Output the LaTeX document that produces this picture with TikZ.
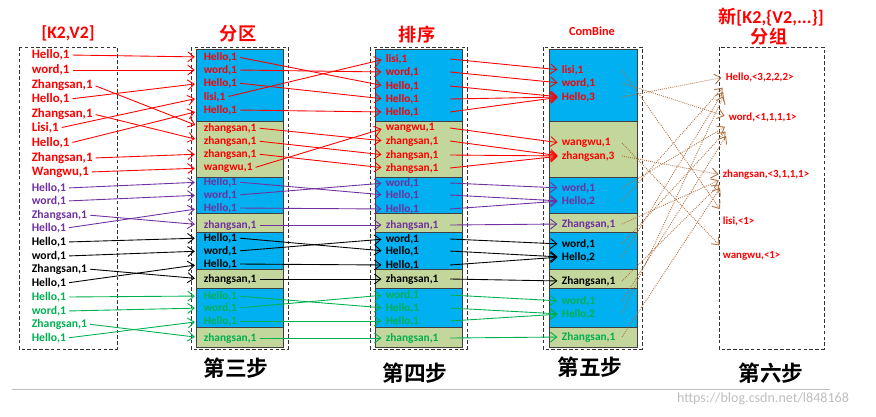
\documentclass[tikz,border=0pt]{standalone}
\usepackage{fontspec}
\setmainfont{Carlito}
\newfontfamily\cjk{Noto Sans CJK SC}[BoldFont={Noto Sans CJK SC Bold}]
\usetikzlibrary{arrows.meta,calc}

\definecolor{kred}{RGB}{255,0,0}
\definecolor{kpurple}{RGB}{112,48,160}
\definecolor{kgreen}{RGB}{0,176,80}
\definecolor{kbrown}{RGB}{176,112,64}
\definecolor{blkblue}{RGB}{0,176,240}
\definecolor{blkolive}{RGB}{195,214,155}

\tikzset{
  item/.style={anchor=west, inner sep=0.5pt, font=\bfseries\fontsize{9.7}{10}\selectfont},
  kvarrow/.style={line width=0.75pt, -{Straight Barb[length=5.5pt,width=8.5pt]}},
  grouparrow/.style={kbrown, line width=0.75pt, densely dotted, -{Straight Barb[length=5.5pt,width=8.5pt]}},
  dashbox/.style={densely dashed, line width=0.7pt, draw=black!80},
  coltitle/.style={kred, font=\cjk\bfseries\fontsize{15.5}{16}\selectfont},
  steplabel/.style={font=\cjk\bfseries\fontsize{18.5}{20}\selectfont},
}

\begin{document}
\begin{tikzpicture}[x=0.03cm, y=-0.03cm]
\useasboundingbox (0,0) rectangle (876,416);

% dashed frames of the five columns
\draw[dashbox] (19,47) rectangle (117,349);
\draw[dashbox] (191,47) rectangle (288,349);
\draw[dashbox] (370,47) rectangle (467,349);
\draw[dashbox] (543,47) rectangle (642,349);
\draw[dashbox] (719,47) rectangle (824,349);

% coloured partitions
\foreach \xl/\xr in {196/283, 375/462, 549/637}
  \foreach \ya/\yb/\f in {49/121/blkblue, 121/177/blkolive, 177/213/blkblue, 213/232/blkolive,
                          232/269/blkblue, 269/288/blkolive, 288/327/blkblue, 327/347/blkolive}
    \draw[fill=\f, draw=black!75, line width=0.5pt] (\xl,\ya) rectangle (\xr,\yb);

% titles
\node[kred, font=\bfseries\fontsize{15}{16}\selectfont] (tK) at (68,33) {[K2,V2]};
\node[coltitle] (tP) at (238,34) {分区};
\node[coltitle] (tS) at (417,35) {排序};
\node[kred, font=\bfseries\fontsize{10.5}{11}\selectfont] (tC) at (592,31) {ComBine};
\node[kred, font=\bfseries\fontsize{15.5}{16}\selectfont] (tG) at (771,17) {{\cjk\bfseries 新}[K2,\{V2,...\}]};
\node[coltitle] (tG2) at (769,37) {分组};

% [K2,V2]
\foreach \n/\y/\t/\c/\s in {1/55/{Hello,1}/kred/11, 2/70/{word,1}/kred/11, 3/85/{Zhangsan,1}/kred/11,
    4/99/{Hello,1}/kred/11, 5/114/{Zhangsan,1}/kred/11, 6/128/{Lisi,1}/kred/11, 7/143/{Hello,1}/kred/11,
    8/158/{Zhangsan,1}/kred/11, 9/172/{Wangwu,1}/kred/11,
    10/188/{Hello,1}/kpurple/10, 11/201/{word,1}/kpurple/10, 12/215/{Zhangsan,1}/kpurple/10, 13/228/{Hello,1}/kpurple/10,
    14/242/{Hello,1}/black/10, 15/256/{word,1}/black/10, 16/269/{Zhangsan,1}/black/10, 17/283/{Hello,1}/black/10,
    18/297/{Hello,1}/kgreen/10, 19/311/{word,1}/kgreen/10, 20/324/{Zhangsan,1}/kgreen/10, 21/338/{Hello,1}/kgreen/10}
  \node[item, \c, font=\bfseries\fontsize{\s}{\s}\selectfont] (k\n) at (31,\y) {\t};

% partition
\foreach \n/\y/\t/\c in {1/57/{Hello,1}/kred, 2/70/{word,1}/kred, 3/83/{Hello,1}/kred, 4/97/{lisi,1}/kred,
    5/110/{Hello,1}/kred, 6/128/{zhangsan,1}/kred, 7/141/{zhangsan,1}/kred, 8/154/{zhangsan,1}/kred,
    9/168/{wangwu,1}/kred,
    10/182/{Hello,1}/kpurple, 11/195/{word,1}/kpurple, 12/208/{Hello,1}/kpurple, 13/225/{zhangsan,1}/kpurple,
    14/238/{Hello,1}/black, 15/251/{word,1}/black, 16/264/{Hello,1}/black, 17/279/{zhangsan,1}/black,
    18/296/{Hello,1}/kgreen, 19/308/{word,1}/kgreen, 20/321/{Hello,1}/kgreen, 21/338/{zhangsan,1}/kgreen}
  \node[item, \c] (p\n) at (203,\y) {\t};

% sort
\foreach \n/\y/\t/\c in {1/59/{lisi,1}/kred, 2/72/{word,1}/kred, 3/86/{Hello,1}/kred, 4/99/{Hello,1}/kred,
    5/112/{Hello,1}/kred, 6/128/{wangwu,1}/kred, 7/141/{zhangsan,1}/kred, 8/155/{zhangsan,1}/kred,
    9/168/{zhangsan,1}/kred,
    10/183/{word,1}/kpurple, 11/195/{Hello,1}/kpurple, 12/209/{Hello,1}/kpurple, 13/225/{zhangsan,1}/kpurple,
    14/239/{word,1}/black, 15/251/{Hello,1}/black, 16/265/{Hello,1}/black, 17/279/{zhangsan,1}/black,
    18/295/{word,1}/kgreen, 19/308/{Hello,1}/kgreen, 20/321/{Hello,1}/kgreen, 21/338/{zhangsan,1}/kgreen}
  \node[item, \c] (s\n) at (385,\y) {\t};

% combine
\foreach \n/\y/\t/\c in {1/70/{lisi,1}/kred, 2/83/{word,1}/kred, 3/97/{Hello,3}/kred,
    4/143/{wangwu,1}/kred, 5/156/{zhangsan,3}/kred,
    6/188/{word,1}/kpurple, 7/201/{Hello,2}/kpurple, 8/224/{Zhangsan,1}/kpurple,
    9/244/{word,1}/black, 10/257/{Hello,2}/black, 11/281/{Zhangsan,1}/black,
    12/301/{word,1}/kgreen, 13/314/{Hello,2}/kgreen, 14/337/{Zhangsan,1}/kgreen}
  \node[item, \c] (c\n) at (561,\y) {\t};

% grouped result
\foreach \n/\x/\y/\t in {1/725/77/{Hello,<3,2,2,2>}, 2/728/117/{word,<1,1,1,1>},
    3/722/175/{zhangsan,<3,1,1,1>}, 4/722/221/{lisi,<1>}, 5/722/256/{wangwu,<1>}}
  \node[item, kred, font=\bfseries\fontsize{9.3}{10}\selectfont] (g\n) at (\x,\y) {\t};

% step 3: into partitions
\foreach \a/\b/\c in {1/1/kred, 2/2/kred, 3/6/kred, 4/3/kred, 5/7/kred, 6/4/kred, 7/5/kred, 8/8/kred, 9/9/kred,
    10/10/kpurple, 11/11/kpurple, 12/13/kpurple, 13/12/kpurple,
    14/14/black, 15/15/black, 16/17/black, 17/16/black,
    18/18/kgreen, 19/19/kgreen, 20/21/kgreen, 21/20/kgreen}
  \draw[kvarrow, \c, shorten <=2pt, shorten >=7pt] (k\a.east) -- (p\b.west);

% step 4: sorting
\foreach \a/\b/\c in {1/3/kred, 2/2/kred, 3/4/kred, 4/1/kred, 5/5/kred, 6/7/kred, 7/8/kred, 8/9/kred, 9/6/kred,
    10/11/kpurple, 11/10/kpurple, 12/12/kpurple, 13/13/kpurple,
    14/15/black, 15/14/black, 16/16/black, 17/17/black,
    18/19/kgreen, 19/18/kgreen, 20/20/kgreen, 21/21/kgreen}
  \draw[kvarrow, \c, shorten <=2pt, shorten >=3pt] (p\a.east) -- (s\b.west);

% step 5: combine
\coordinate (c3r) at (450,0);
\foreach \a/\b/\c in {1/1/kred, 2/2/kred, 3/3/kred, 4/3/kred, 5/3/kred, 6/4/kred, 7/5/kred, 8/5/kred, 9/5/kred,
    10/6/kpurple, 11/7/kpurple, 12/7/kpurple, 13/8/kpurple,
    14/9/black, 15/10/black, 16/10/black, 17/11/black,
    18/12/kgreen, 19/13/kgreen, 20/13/kgreen, 21/14/kgreen}
  \draw[kvarrow, \c, shorten >=3pt] (s\a -| c3r) -- (c\b.west);

% step 6: grouping
\coordinate (c4r) at (622,0);
\foreach \a/\b/\d in {3/1/0, 7/1/8, 10/1/12, 13/1/16,
    2/2/0, 6/2/8, 9/2/12, 12/2/16,
    5/3/0, 8/3/4, 11/3/7, 14/3/10,
    1/4/-9, 4/5/-8}
  \draw[grouparrow, shorten >=3pt] (c\a -| c4r) -- ($(g\b.west)+(0,\d)$);

% step labels
\node[steplabel] (st3) at (236,368) {第三步};
\node[steplabel] (st4) at (415,373) {第四步};
\node[steplabel] (st5) at (590,367) {第五步};
\node[steplabel] (st6) at (771,373) {第六步};

\draw[black!25, line width=0.8pt] (12,389) -- (830,389);
\node[black!25, font=\fontsize{12}{12}\selectfont] (wm) at (763,399) {https://blog.csdn.net/l848168};

\end{tikzpicture}
\end{document}
